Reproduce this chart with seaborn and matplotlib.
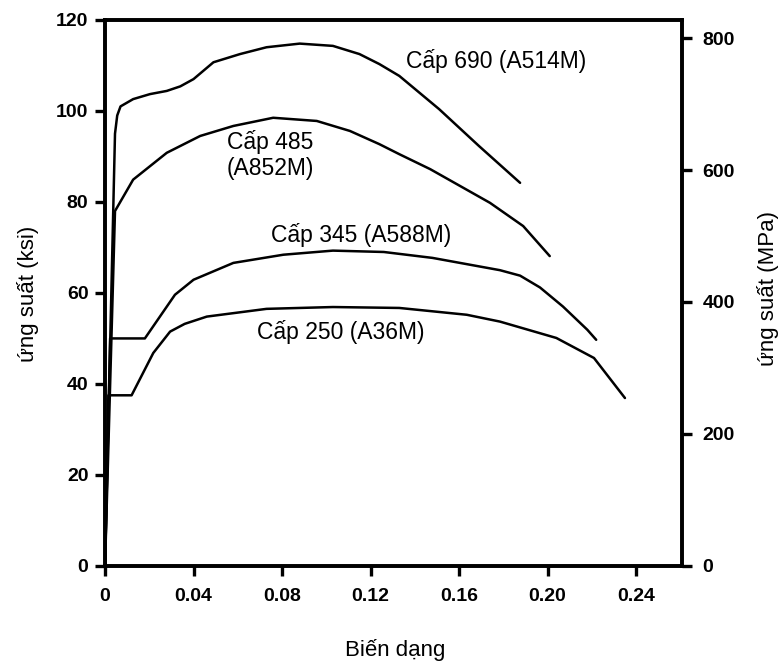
import matplotlib
matplotlib.use("Agg")
import matplotlib.pyplot as plt
import seaborn as sns
import pandas as pd

# ---- data (strain, stress in ksi) ----
g690_strain = [0, 0.0045, 0.0055, 0.0070, 0.0127, 0.0203, 0.0279, 0.034, 0.040, 0.049, 0.061, 0.073,
               0.088, 0.103, 0.115, 0.124, 0.133, 0.151, 0.169, 0.1876]
g690_ksi = [0, 95, 99, 101, 102.6, 103.7, 104.4, 105.4, 107.0, 110.7, 112.5, 114.0,
            114.8, 114.3, 112.5, 110.3, 107.7, 100.4, 92.3, 84.2]

g485_strain = [0, 0.0045, 0.0127, 0.0279, 0.043, 0.058, 0.076, 0.0957, 0.1107, 0.124, 0.133,
               0.147, 0.174, 0.189, 0.201]
g485_ksi = [0, 78, 84.9, 90.8, 94.5, 96.7, 98.5, 97.8, 95.6, 92.7, 90.5,
            87.2, 79.8, 74.7, 68.1]

g345_strain = [0, 0.0023, 0.018, 0.0316, 0.040, 0.058, 0.0806, 0.103, 0.126, 0.148, 0.1785,
               0.1876, 0.1966, 0.207, 0.218, 0.222]
g345_ksi = [0, 50, 50, 59.6, 62.9, 66.6, 68.4, 69.3, 69.0, 67.7, 65.0,
            63.8, 61.2, 57.0, 51.9, 49.7]

g250_strain = [0, 0.0015, 0.012, 0.0218, 0.0294, 0.036, 0.046, 0.073, 0.103, 0.133, 0.1635,
               0.1785, 0.204, 0.221, 0.235]
g250_ksi = [0, 37.5, 37.5, 46.8, 51.5, 53.2, 54.8, 56.5, 56.9, 56.7, 55.2,
            53.7, 50.1, 45.7, 36.9]

grade_labels = ["Cấp 690 (A514M)", "Cấp 485\n(A852M)", "Cấp 345 (A588M)", "Cấp 250 (A36M)"]
label_pos = [(0.1767, 110.9), (0.0748, 90.3), (0.1156, 72.8), (0.1066, 51.5)]

x_ticks = [0, 0.04, 0.08, 0.12, 0.16, 0.20, 0.24]
x_ticklabels = ["0", "0.04", "0.08", "0.12", "0.16", "0.20", "0.24"]
ksi_ticks = [0, 20, 40, 60, 80, 100, 120]
mpa_ticks = [0, 200, 400, 600, 800]
KSI_TO_MPA = 6.895

sns.set_style("ticks")
plt.rcParams['font.family'] = ['Liberation Sans', 'DejaVu Sans']
plt.rcParams['text.color'] = 'black'

fig = plt.figure(figsize=(7.81, 6.65), dpi=100)
ax = fig.add_axes([0.1345, 0.149, 0.7385, 0.821])

curves = [(g690_strain, g690_ksi), (g485_strain, g485_ksi),
          (g345_strain, g345_ksi), (g250_strain, g250_ksi)]
for (xs, ys), name in zip(curves, grade_labels):
    df = pd.DataFrame({"strain": xs, "ksi": ys})
    sns.lineplot(data=df, x="strain", y="ksi", ax=ax, color="black", lw=1.8,
                 sort=False, estimator=None)

for name, (lx, ly) in zip(grade_labels, label_pos):
    ax.text(lx, ly, name, ha="center", va="center", fontsize=16.5, color="black",
            linespacing=1.2)

ax.set_xlim(0, 0.2607)
ax.set_ylim(0, 120)
ax.set_xticks(x_ticks)
ax.set_xticklabels(x_ticklabels)
ax.set_yticks(ksi_ticks)
for s in ax.spines.values():
    s.set_linewidth(2.6)
    s.set_color("black")
ax.tick_params(axis="both", direction="out", length=7, width=2.4, labelsize=14, pad=5,
               colors="black")
ax.tick_params(axis="x", pad=9)
for lab in ax.get_xticklabels() + ax.get_yticklabels():
    lab.set_fontweight("bold")
ax.set_xlabel("")
ax.set_ylabel("")

ax2 = ax.twinx()
ax2.set_ylim(0, 120 * KSI_TO_MPA)
ax2.set_yticks(mpa_ticks)
for s in ax2.spines.values():
    s.set_linewidth(2.6)
    s.set_color("black")
ax2.tick_params(axis="y", direction="out", length=7, width=2.4, labelsize=14, pad=8,
                colors="black")
for lab in ax2.get_yticklabels():
    lab.set_fontweight("bold")

fig.text(0.036, 0.558, "ứng suất (ksi)", rotation=90, ha="center", va="center",
         fontsize=16, color="black")
fig.text(0.983, 0.566, "ứng suất (MPa)", rotation=90, ha="center", va="center",
         fontsize=16, color="black")
fig.text(0.506, 0.022, "Biến dạng", ha="center", va="center", fontsize=16, color="black")

fig.savefig("out.png", dpi=100, facecolor="white")
